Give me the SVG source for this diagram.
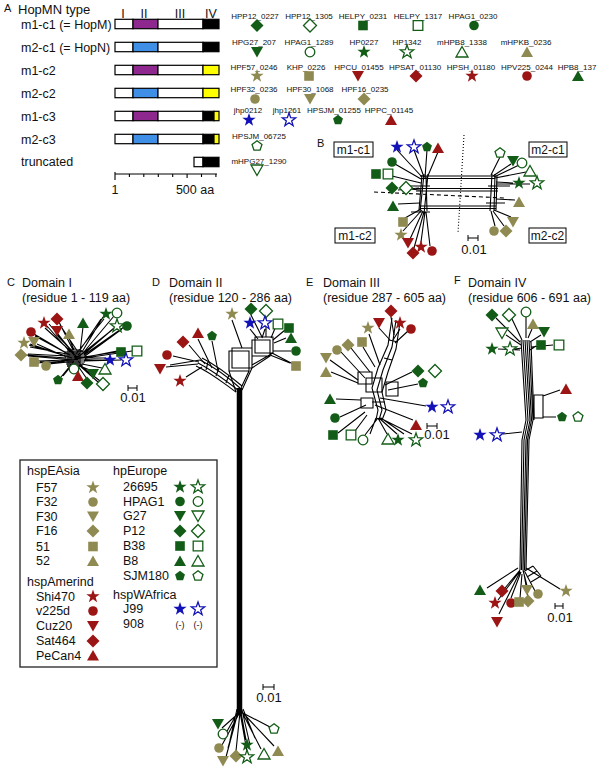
<svg xmlns="http://www.w3.org/2000/svg" width="600" height="770" viewBox="0 0 600 770">
<defs>
<style>
text{font-family:"Liberation Sans",Arial,sans-serif;fill:#111}
.t{font-size:12.5px}
.s{font-size:8px;text-anchor:middle}
.p{font-size:11px}
.m{font-size:9px;text-anchor:middle}
.gF{fill:#135c17;stroke:none}
.gO{fill:#fff;stroke:#135c17;stroke-width:1.3}
.oF{fill:#8f8a52;stroke:none}
.rF{fill:#9b1515;stroke:none}
.bF{fill:#1212b8;stroke:none}
.bO{fill:#fff;stroke:#1212b8;stroke-width:1.3}
.ln{fill:none;stroke:#000;stroke-width:1.1}
.bar{stroke:#000;stroke-width:1.2}
</style>
<path id="st" d="M0,-7 L1.65,-2.27 L6.66,-2.16 L2.66,0.87 L4.11,5.66 L0,2.8 L-4.11,5.66 L-2.66,0.87 L-6.66,-2.16 L-1.65,-2.27Z"/>
<circle id="ci" r="4.8"/>
<path id="tu" d="M0,-5.5 L6,5 L-6,5Z"/>
<path id="td" d="M-6,-5 L6,-5 L0,5.5Z"/>
<path id="di" d="M0,-6.5 L6.5,0 L0,6.5 L-6.5,0Z"/>
<path id="sq" d="M-4.8,-4.8 h9.6 v9.6 h-9.6Z"/>
<path id="pe" d="M0,-5.2 L4.95,-1.61 L3.06,4.21 L-3.06,4.21 L-4.95,-1.61Z"/>
</defs>
<rect width="600" height="770" fill="#fff"/>

<!-- Panel A -->
<g id="panelA-title">
<text x="4" y="12" class="p">A</text>
<text x="18" y="13.5" style="font-size:13px">HopMN type</text>
<text x="123" y="18" class="t" text-anchor="middle">I</text>
<text x="144" y="18" class="t" text-anchor="middle">II</text>
<text x="180" y="18" class="t" text-anchor="middle">III</text>
<text x="211" y="18" class="t" text-anchor="middle">IV</text>
</g>
<g id="row-m1c1">
<text x="21" y="28.5" class="t">m1-c1 (= HopM)</text>
<rect x="115" y="19.3" width="18" height="9.4" fill="#fff" class="bar"/>
<rect x="133" y="19.3" width="25" height="9.4" fill="#8e278e" class="bar"/>
<rect x="158" y="19.3" width="45" height="9.4" fill="#fff" class="bar"/>
<rect x="203" y="19.3" width="16" height="9.4" fill="#000" class="bar"/>
</g>
<g id="row-m2c1">
<text x="21" y="51.5" class="t">m2-c1 (= HopN)</text>
<rect x="115" y="42.3" width="18" height="9.4" fill="#fff" class="bar"/>
<rect x="133" y="42.3" width="25" height="9.4" fill="#3f8fe6" class="bar"/>
<rect x="158" y="42.3" width="45" height="9.4" fill="#fff" class="bar"/>
<rect x="203" y="42.3" width="16" height="9.4" fill="#000" class="bar"/>
</g>
<g id="row-m1c2">
<text x="21" y="74.5" class="t">m1-c2</text>
<rect x="115" y="65.3" width="18" height="9.4" fill="#fff" class="bar"/>
<rect x="133" y="65.3" width="25" height="9.4" fill="#8e278e" class="bar"/>
<rect x="158" y="65.3" width="45" height="9.4" fill="#fff" class="bar"/>
<rect x="203" y="65.3" width="16" height="9.4" fill="#ffff00" class="bar"/>
</g>
<g id="row-m2c2">
<text x="21" y="97.5" class="t">m2-c2</text>
<rect x="115" y="88.3" width="18" height="9.4" fill="#fff" class="bar"/>
<rect x="133" y="88.3" width="25" height="9.4" fill="#3f8fe6" class="bar"/>
<rect x="158" y="88.3" width="45" height="9.4" fill="#fff" class="bar"/>
<rect x="203" y="88.3" width="16" height="9.4" fill="#ffff00" class="bar"/>
</g>
<g id="row-m1c3">
<text x="21" y="120.5" class="t">m1-c3</text>
<rect x="115" y="111.3" width="18" height="9.4" fill="#fff" class="bar"/>
<rect x="133" y="111.3" width="25" height="9.4" fill="#8e278e" class="bar"/>
<rect x="158" y="111.3" width="45" height="9.4" fill="#fff" class="bar"/>
<rect x="203" y="111.3" width="11" height="9.4" fill="#000" class="bar"/>
<rect x="214" y="111.3" width="5" height="9.4" fill="#ffff00" class="bar"/>
</g>
<g id="row-m2c3">
<text x="21" y="143.5" class="t">m2-c3</text>
<rect x="115" y="134.3" width="18" height="9.4" fill="#fff" class="bar"/>
<rect x="133" y="134.3" width="25" height="9.4" fill="#3f8fe6" class="bar"/>
<rect x="158" y="134.3" width="45" height="9.4" fill="#fff" class="bar"/>
<rect x="203" y="134.3" width="11" height="9.4" fill="#000" class="bar"/>
<rect x="214" y="134.3" width="5" height="9.4" fill="#ffff00" class="bar"/>
</g>
<g id="row-truncated">
<text x="21" y="165.5" class="t">truncated</text>
<rect x="194" y="157.3" width="9" height="9.4" fill="#fff" class="bar"/>
<rect x="203" y="157.3" width="16" height="9.4" fill="#000" class="bar"/>
</g>
<g id="axisA">
<path d="M115,174 H217 M115,172 V180 M129.4,174 V177 M143.8,174 V177 M158.3,174 V177 M172.7,174 V177 M187.1,174 V178 M201.5,174 V177 M215.9,174 V177" stroke="#000" stroke-width="1.1" fill="none"/>
<text x="115" y="194" class="t" text-anchor="middle">1</text>
<text x="195" y="194" class="t" text-anchor="middle">500 aa</text>
</g>

<!-- Panel A strain key -->
<g id="strain-key">
<text x="255" y="18.5" class="s">HPP12_0227</text><use href="#di" x="257" y="25.5" class="gF"/>
<text x="309" y="18.5" class="s">HPP12_1305</text><use href="#di" x="310" y="25.5" class="gO"/>
<text x="363" y="18.5" class="s">HELPY_0231</text><use href="#sq" x="363" y="25.5" class="gF"/>
<text x="418" y="18.5" class="s">HELPY_1317</text><use href="#sq" x="418" y="25.5" class="gO"/>
<text x="473" y="18.5" class="s">HPAG1_0230</text><use href="#ci" x="474" y="25.5" class="gF"/>

<text x="254" y="45" class="s">HPG27_207</text><use href="#td" x="257" y="52" class="gF"/>
<text x="309" y="45" class="s">HPAG1_1289</text><use href="#ci" x="310" y="52" class="gO"/>
<text x="364" y="45" class="s">HP0227</text><use href="#st" x="364" y="52" class="gF"/>
<text x="407" y="45" class="s">HP1342</text><use href="#st" x="407" y="52" class="gO"/>
<text x="462" y="45" class="s">mHPB8_1338</text><use href="#tu" x="462" y="52" class="gO"/>
<text x="526" y="45" class="s">mHPKB_0236</text><use href="#tu" x="527" y="52" class="oF"/>

<text x="254" y="69.5" class="s">HPF57_0246</text><use href="#st" x="257" y="76" class="oF"/>
<text x="306" y="69.5" class="s">KHP_0226</text><use href="#sq" x="309" y="76" class="oF"/>
<text x="359" y="69.5" class="s">HPCU_01455</text><use href="#td" x="358" y="76" class="rF"/>
<text x="415" y="69.5" class="s">HPSAT_01130</text><use href="#di" x="416" y="76" class="rF"/>
<text x="471" y="69.5" class="s">HPSH_01180</text><use href="#st" x="472" y="76" class="rF"/>
<text x="527" y="69.5" class="s">HPV225_0244</text><use href="#ci" x="527" y="76" class="rF"/>
<text x="577" y="69.5" class="s">HPB8_137</text><use href="#tu" x="578" y="76" class="gF"/>

<text x="254" y="92" class="s">HPF32_0236</text><use href="#ci" x="255" y="99" class="oF"/>
<text x="310" y="92" class="s">HPF30_1068</text><use href="#td" x="310" y="99" class="oF"/>
<text x="365" y="92" class="s">HPF16_0235</text><use href="#di" x="364" y="99" class="oF"/>

<text x="248" y="113" class="s">jhp0212</text><use href="#st" x="249" y="120" class="bF"/>
<text x="287" y="113" class="s">jhp1261</text><use href="#st" x="289" y="120" class="bO"/>
<text x="334" y="113" class="s">HPSJM_01255</text><use href="#pe" x="338" y="120" class="gF"/>
<text x="389" y="113" class="s">HPPC_01145</text><use href="#tu" x="391" y="120" class="rF"/>

<text x="259" y="138.5" class="s">HPSJM_06725</text><use href="#pe" x="257" y="146" class="gO"/>
<text x="259" y="164" class="s">mHPG27_1290</text><use href="#td" x="257" y="170" class="gO"/>
</g>

<!-- connectors (network edges) -->
<g id="connectors" class="ln">
<!-- Panel B -->
<path d="M420,176 H495 M420,178.5 H495 M416,188.5 H498 M416,191 H498 M420,206 H496 M420,208.5 H496 M410,186 H430 M411,212 H430 M488,186 H510 M486,203 H505"/>
<path d="M424,174 L420,212 M428,174 L424,214 M426,176 L427,211 M422,175 L419,210 M492,174 L490,211 M495,174 L494,211 M497,176 L496,210"/>
<path d="M397,150 L422,177 M414,150 L424,177 M427,150 L425,178 M438,152 L427,178 M395,164 L421,179 M392,176 L421,183 M410,189 L420,190 M398,190 L419,188 M398,204 L420,203"/>
<path d="M405,218 L421,209 M403,231 L422,210 M410,239 L423,211 M414,248 L424,212 M421,242 L425,212 M430,246 L426,212"/>
<path d="M500,157 L491,175 M511,164 L493,176 M519,165 L494,177 M526,172 L495,178 M513,183 L496,182 M530,184 L496,184 M515,200 L496,199"/>
<path d="M511,217 L494,210 M495,226 L491,211 M504,226 L493,211"/>
<path d="M374,192 L505,198" stroke-dasharray="4,3"/>
<path d="M464,135 L458,233" stroke-dasharray="1,2"/>

<!-- Panel C -->
<path d="M64,352 H86 M64,354 H86 M66,356 H85 M66,358 H86 M66,360 H85 M66,362 H85 M66,364 H84 M67,366 H83 M68,349 V367 M70,349 V368 M72,349 V368 M74,348 V368 M76,349 V368 M78,349 V368 M80,349 V367 M70,350 L82,366 M82,350 L70,366"/>
<path d="M47,326 L70,352 M49,324 L72,351 M59,322 L73,350 M58,334 L72,352 M56,334 L74,353 M34,334 L68,354 M35,336 L70,355 M69,338 L74,350 M83,327 L80,352 M103,317 L82,352 M101,319 L80,350 M114,316 L83,353 M114,328 L84,354 M124,327 L84,355 M122,329 L85,356 M45,328 L76,356 M60,325 L78,352 M104,319 L76,354 M112,330 L78,357"/>
<path d="M29,345 L66,356 M30,347 L67,354 M37,344 L66,357 M26,355 L66,358 M28,354 L67,356 M38,361 L67,360 M37,363 L66,361 M49,364 L68,362 M51,363 L70,360 M30,344 L72,358 M28,356 L74,360 M40,362 L74,362"/>
<path d="M117,352 L84,357 M132,351 L85,358 M106,360 L84,360 M121,360 L84,361 M104,358 L85,359 M74,366 L74,364 M78,373 L76,365 M92,371 L80,366 M102,368 L82,364 M61,377 L70,366 M63,376 L72,365 M87,379 L78,366 M100,381 L81,366 M98,382 L79,365 M117,351 L76,359 M106,358 L74,357"/>

<!-- Panel D -->
<path d="M196,366 C210,372 222,382 236,392 M198,363 C212,370 225,380 238,390 M200,360 C214,367 228,377 240,388 M202,358 C216,365 229,375 242,386 M206,370 L208,362 M216,376 L219,368 M226,383 L229,375"/>
<path d="M229,351 h20 v20 h-20 Z M232,348 h20 v20 h-20 Z M252,340 h18 v16 h-18 Z M255,337 h18 v16 h-18 Z M249,371 L241,388 M252,368 L242,390 M229,371 L236,392 M270,356 L252,368 M273,353 L252,365"/>
<path d="M239.5,388 L239.5,714" stroke-width="5.5"/>
<path d="M232,320 L242,348 M251,315 L262,337 M266,317 L266,337 M250,329 L258,339 M265,329 L262,338 M276,326 L271,338 M285,330 L273,340 M286,338 L274,343 M291,351 L273,351 M290,363 L270,355 M293,364 L272,353"/>
<path d="M198,339 L212,368 M212,341 L218,371 M189,345 L205,364 M173,356 L199,362 M166,367 L198,364 M186,377 L202,367 M170,365 L200,360"/>
<path d="M240,712 L222,728 M239,710 L226,733 M241,712 L270,727 M240,712 L222,745 M238,712 L226,757 M240,712 L236,751 M241,712 L246,740 M240,712 L247,752 M242,712 L261,749 M242,712 L274,746 M237,709 L230,740 M243,709 L255,738 M238,712 L228,748 M242,710 L250,745"/>

<!-- Panel E -->
<path d="M392,318 L388,345 L378,368 L372,388 L378,410 L376,420 M396,320 L392,347 L383,370 L377,390 L382,410 L379,420 M400,322 L396,349 L388,372 L382,392 L386,410 L382,420"/>
<path d="M358,372 h14 v12 h-14 Z M386,382 h12 v14 h-12 Z M361,398 h12 v10 h-12 Z M366,378 h16 v14 h-16 Z M389,340 L398,342 M384,358 L392,360 M372,402 L385,402"/>
<path d="M391,317 L394,335 M379,328 L390,340 M400,329 L393,340 M408,331 L395,343 M369,334 L380,365 M363,347 L375,367 M351,348 L370,372 M341,352 L365,378 M330,360 L358,380 M331,372 L358,383"/>
<path d="M412,372 L385,385 M418,384 L388,390 M426,406 L380,398 M336,399 L361,400 M340,417 L366,405 M413,420 L375,405 M338,433 L365,412 M355,431 L367,415"/>
<path d="M378,418 L365,435 M378,418 L387,434 M379,418 L397,434 M380,418 L412,434 M376,418 L370,434 M381,418 L404,434"/>

<!-- Panel F -->
<path d="M496,318 L520,342 M512,319 L522,340 M526,317 L526,338 M532,329 L528,338 M541,335 L530,342 M506,335 L521,345 M498,349 L520,350 M515,349 L522,348 M536,346 L530,350 M553,345 L531,347"/>
<path d="M521,340 L526,420 L522,440 L520,570 M523,340 L528,420 L524,440 L521.5,570 M525,340 L530,420 L526,440 L523,570 M527,340 L531.5,420 L527.5,440 L524.5,570 M529,340 L533,420 L529,440 L526,570 M531,342 L534,420"/>
<path d="M534,395 h9 v23 h-9 Z M543,396 L560,390 M543,417 L556,417 M503,434 L522,432"/>
<path d="M487,588 L518,568 M505,588 L520,570 M498,600 L520,571 M511,598 L521,572 M499,614 L520,572 M527,586 L523,570 M535,591 L525,572 M520,598 L522,574 M528,597 L524,574 M560,589 L526,568"/>
<path d="M523,572 L533,566 M527,577 L537,571 M531,582 L541,576 M533,566 L541,576"/>
</g>

<!-- Panel B nodes -->
<g id="panelB">
<text x="317" y="147" class="p">B</text>
<g id="box-m1c1"><rect x="334" y="142" width="39" height="15" fill="#fff" stroke="#000"/><text x="353.5" y="154" style="font-size:12px" text-anchor="middle">m1-c1</text></g>
<g id="box-m2c1"><rect x="529" y="142" width="38" height="15" fill="#fff" stroke="#000"/><text x="548" y="154" style="font-size:12px" text-anchor="middle">m2-c1</text></g>
<g id="box-m1c2"><rect x="335" y="228" width="40" height="15" fill="#fff" stroke="#000"/><text x="355" y="240" style="font-size:12px" text-anchor="middle">m1-c2</text></g>
<g id="box-m2c2"><rect x="529" y="228" width="37" height="15" fill="#fff" stroke="#000"/><text x="547.5" y="240" style="font-size:12px" text-anchor="middle">m2-c2</text></g>
<g id="scaleB"><path d="M468,238 H478 M468,235 V241 M478,235 V241" stroke="#000" fill="none"/><text x="474" y="254" style="font-size:13px" text-anchor="middle">0.01</text></g>
<g id="leavesB">
<use href="#st" x="397" y="147" class="bF"/><use href="#st" x="414" y="147" class="bO"/><use href="#pe" x="427" y="147" class="gF"/><use href="#tu" x="438" y="148" class="rF"/>
<use href="#ci" x="392" y="162" class="gF"/><use href="#sq" x="376" y="174" class="gF"/><use href="#sq" x="388" y="174" class="gO"/>
<use href="#di" x="392" y="188" class="gF"/><use href="#di" x="406" y="188" class="gO"/><use href="#tu" x="393" y="206" class="gF"/>
<use href="#sq" x="403" y="222" class="oF"/><use href="#st" x="401" y="235" class="oF"/><use href="#td" x="408" y="243" class="rF"/>
<use href="#di" x="413" y="253" class="rF"/><use href="#st" x="421" y="247" class="rF"/><use href="#ci" x="432" y="251" class="rF"/>
<use href="#pe" x="500" y="153" class="gO"/><use href="#td" x="513" y="161" class="gF"/><use href="#ci" x="522" y="163" class="gO"/><use href="#tu" x="530" y="171" class="gO"/>
<use href="#st" x="519" y="183" class="gF"/><use href="#st" x="537" y="183" class="gO"/><use href="#tu" x="519" y="202" class="oF"/>
<use href="#td" x="513" y="222" class="oF"/><use href="#ci" x="494" y="231" class="oF"/><use href="#di" x="506" y="231" class="oF"/>
</g>
</g>

<!-- Panel C -->
<g id="panelC">
<text x="7" y="286" class="p">C</text>
<text x="22" y="287" class="t">Domain I</text>
<text x="22" y="302" class="t">(residue 1 - 119 aa)</text>
<g id="scaleC"><path d="M128,388 H137 M128,385 V391 M137,385 V391" stroke="#000" fill="none"/><text x="133" y="402" style="font-size:13px" text-anchor="middle">0.01</text></g>
<g id="leavesC">
<use href="#st" x="44" y="323" class="rF"/><use href="#di" x="57" y="319" class="rF"/><use href="#td" x="57" y="331" class="rF"/><use href="#ci" x="31" y="332" class="rF"/>
<use href="#tu" x="69" y="334" class="oF"/><use href="#tu" x="83" y="323" class="gF"/><use href="#st" x="106" y="314" class="gF"/><use href="#ci" x="117" y="313" class="gO"/>
<use href="#st" x="117" y="326" class="gO"/><use href="#ci" x="127" y="326" class="gF"/>
<use href="#st" x="24" y="343" class="oF"/><use href="#td" x="34" y="342" class="oF"/><use href="#di" x="21" y="355" class="oF"/><use href="#sq" x="34" y="362" class="oF"/><use href="#ci" x="46" y="366" class="oF"/>
<use href="#sq" x="121" y="352" class="gF"/><use href="#sq" x="137" y="351" class="gO"/><use href="#st" x="110" y="360" class="bF"/><use href="#st" x="126" y="360" class="bO"/>
<use href="#ci" x="74" y="369" class="gO"/><use href="#tu" x="78" y="376" class="rF"/><use href="#td" x="93" y="374" class="gF"/><use href="#tu" x="105" y="369" class="gO"/>
<use href="#pe" x="58" y="380" class="gF"/><use href="#di" x="87" y="383" class="gF"/><use href="#di" x="103" y="384" class="gO"/>
</g>
</g>

<!-- Panel D -->
<g id="panelD">
<text x="152" y="286" class="p">D</text>
<text x="169" y="287" class="t">Domain II</text>
<text x="169" y="302" class="t">(residue 120 - 286 aa)</text>
<g id="scaleD"><path d="M263,687 H274 M263,684 V690 M274,684 V690" stroke="#000" fill="none"/><text x="269" y="702" style="font-size:13px" text-anchor="middle">0.01</text></g>
<g id="leavesD">
<use href="#st" x="232" y="314" class="oF"/><use href="#di" x="251" y="309" class="gF"/><use href="#di" x="266" y="311" class="gO"/>
<use href="#st" x="250" y="323" class="bF"/><use href="#st" x="265" y="323" class="bO"/><use href="#sq" x="278" y="324" class="gO"/><use href="#sq" x="289" y="328" class="gF"/>
<use href="#tu" x="291" y="338" class="gF"/><use href="#ci" x="296" y="351" class="gF"/><use href="#sq" x="296" y="366" class="oF"/>
<use href="#tu" x="198" y="333" class="rF"/><use href="#pe" x="212" y="336" class="gF"/><use href="#di" x="183" y="342" class="rF"/>
<use href="#ci" x="167" y="355" class="rF"/><use href="#td" x="160" y="369" class="rF"/><use href="#st" x="180" y="381" class="rF"/>
<use href="#td" x="218" y="724" class="gF"/><use href="#ci" x="223" y="734" class="gO"/><use href="#pe" x="274" y="729" class="gO"/>
<use href="#ci" x="219" y="748" class="oF"/><use href="#td" x="223" y="761" class="oF"/><use href="#di" x="236" y="756" class="oF"/>
<use href="#st" x="247" y="745" class="gF"/><use href="#st" x="247" y="757" class="gO"/><use href="#tu" x="264" y="754" class="gO"/><use href="#tu" x="278" y="751" class="oF"/>
</g>
</g>

<!-- Panel E -->
<g id="panelE">
<text x="306" y="286" class="p">E</text>
<text x="323" y="287" class="t">Domain III</text>
<text x="323" y="302" class="t">(residue 287 - 605 aa)</text>
<g id="scaleE"><path d="M427,426 H437 M427,423 V429 M437,423 V429" stroke="#000" fill="none"/><text x="437" y="439" style="font-size:13px" text-anchor="middle">0.01</text></g>
<g id="leavesE">
<use href="#di" x="391" y="311" class="rF"/><use href="#td" x="379" y="323" class="rF"/><use href="#st" x="400" y="323" class="rF"/><use href="#ci" x="411" y="329" class="rF"/>
<use href="#st" x="368" y="328" class="oF"/><use href="#sq" x="362" y="342" class="oF"/><use href="#di" x="348" y="345" class="oF"/><use href="#ci" x="337" y="350" class="oF"/>
<use href="#td" x="326" y="358" class="oF"/><use href="#tu" x="326" y="372" class="oF"/>
<use href="#di" x="418" y="371" class="gF"/><use href="#di" x="435" y="371" class="gO"/><use href="#pe" x="423" y="383" class="gF"/>
<use href="#st" x="432" y="407" class="bF"/><use href="#st" x="448" y="407" class="bO"/>
<use href="#tu" x="330" y="399" class="gF"/><use href="#ci" x="335" y="418" class="gF"/><use href="#tu" x="416" y="425" class="rF"/>
<use href="#sq" x="333" y="435" class="gF"/><use href="#sq" x="351" y="435" class="gO"/><use href="#ci" x="363" y="440" class="gO"/>
<use href="#tu" x="388" y="439" class="gO"/><use href="#st" x="398" y="440" class="gF"/><use href="#st" x="416" y="440" class="gO"/>
</g>
</g>

<!-- Panel F -->
<g id="panelF">
<text x="454" y="284" class="p">F</text>
<text x="468" y="287" class="t">Domain IV</text>
<text x="468" y="302" class="t">(residue 606 - 691 aa)</text>
<g id="scaleF"><path d="M555,606 H563 M555,603 V609 M563,603 V609" stroke="#000" fill="none"/><text x="560" y="622" style="font-size:13px" text-anchor="middle">0.01</text></g>
<g id="leavesF">
<use href="#di" x="492" y="315" class="gF"/><use href="#di" x="509" y="315" class="gO"/><use href="#ci" x="526" y="312" class="gO"/>
<use href="#tu" x="533" y="324" class="oF"/><use href="#td" x="544" y="332" class="gF"/><use href="#td" x="502" y="333" class="gO"/>
<use href="#st" x="492" y="349" class="gF"/><use href="#st" x="510" y="349" class="gO"/><use href="#sq" x="541" y="345" class="gF"/><use href="#sq" x="559" y="345" class="gO"/>
<use href="#tu" x="566" y="389" class="rF"/><use href="#pe" x="562" y="417" class="gF"/><use href="#pe" x="578" y="417" class="gO"/>
<use href="#st" x="480" y="435" class="bF"/><use href="#st" x="497" y="435" class="bO"/>
<use href="#tu" x="480" y="590" class="gF"/><use href="#di" x="502" y="591" class="rF"/><use href="#st" x="495" y="603" class="rF"/><use href="#ci" x="511" y="603" class="rF"/>
<use href="#td" x="497" y="622" class="rF"/><use href="#td" x="527" y="590" class="oF"/><use href="#ci" x="538" y="594" class="oF"/>
<use href="#sq" x="519" y="602" class="oF"/><use href="#di" x="528" y="601" class="oF"/><use href="#st" x="566" y="591" class="oF"/>
</g>
</g>

<!-- Legend -->
<g id="legend">
<rect x="20" y="460" width="197" height="207" fill="#fff" stroke="#222" stroke-width="1.3"/>
<text x="27" y="475" class="t">hspEAsia</text>
<text x="36" y="491.5" class="t">F57</text><use href="#st" x="93" y="487.5" class="oF"/>
<text x="36" y="506" class="t">F32</text><use href="#ci" x="93" y="502" class="oF"/>
<text x="36" y="520.5" class="t">F30</text><use href="#td" x="93" y="516.5" class="oF"/>
<text x="36" y="535" class="t">F16</text><use href="#di" x="93" y="531" class="oF"/>
<text x="36" y="550.5" class="t">51</text><use href="#sq" x="93" y="546.5" class="oF"/>
<text x="36" y="565" class="t">52</text><use href="#tu" x="93" y="561" class="oF"/>
<text x="27" y="585.5" class="t">hspAmerind</text>
<text x="36" y="600.5" class="t">Shi470</text><use href="#st" x="93" y="596.5" class="rF"/>
<text x="36" y="615" class="t">v225d</text><use href="#ci" x="93" y="611" class="rF"/>
<text x="36" y="630" class="t">Cuz20</text><use href="#td" x="93" y="626" class="rF"/>
<text x="36" y="645" class="t">Sat464</text><use href="#di" x="93" y="641" class="rF"/>
<text x="36" y="659.5" class="t">PeCan4</text><use href="#tu" x="93" y="655.5" class="rF"/>
<text x="113" y="475" class="t">hpEurope</text>
<text x="123" y="491" class="t">26695</text><use href="#st" x="180" y="487" class="gF"/><use href="#st" x="198" y="487" class="gO"/>
<text x="123" y="505.5" class="t">HPAG1</text><use href="#ci" x="180" y="501.5" class="gF"/><use href="#ci" x="198" y="501.5" class="gO"/>
<text x="123" y="520" class="t">G27</text><use href="#td" x="180" y="516" class="gF"/><use href="#td" x="198" y="516" class="gO"/>
<text x="123" y="535" class="t">P12</text><use href="#di" x="180" y="531" class="gF"/><use href="#di" x="198" y="531" class="gO"/>
<text x="123" y="550" class="t">B38</text><use href="#sq" x="180" y="546" class="gF"/><use href="#sq" x="198" y="546" class="gO"/>
<text x="123" y="565" class="t">B8</text><use href="#tu" x="180" y="561" class="gF"/><use href="#tu" x="198" y="561" class="gO"/>
<text x="123" y="580" class="t">SJM180</text><use href="#pe" x="180" y="576" class="gF"/><use href="#pe" x="198" y="576" class="gO"/>
<text x="113" y="598.5" class="t">hspWAfrica</text>
<text x="123" y="613" class="t">J99</text><use href="#st" x="180" y="609" class="bF"/><use href="#st" x="198" y="609" class="bO"/>
<text x="123" y="628" class="t">908</text><text x="180" y="627.5" class="m">(-)</text><text x="198" y="627.5" class="m">(-)</text>
</g>
</svg>
